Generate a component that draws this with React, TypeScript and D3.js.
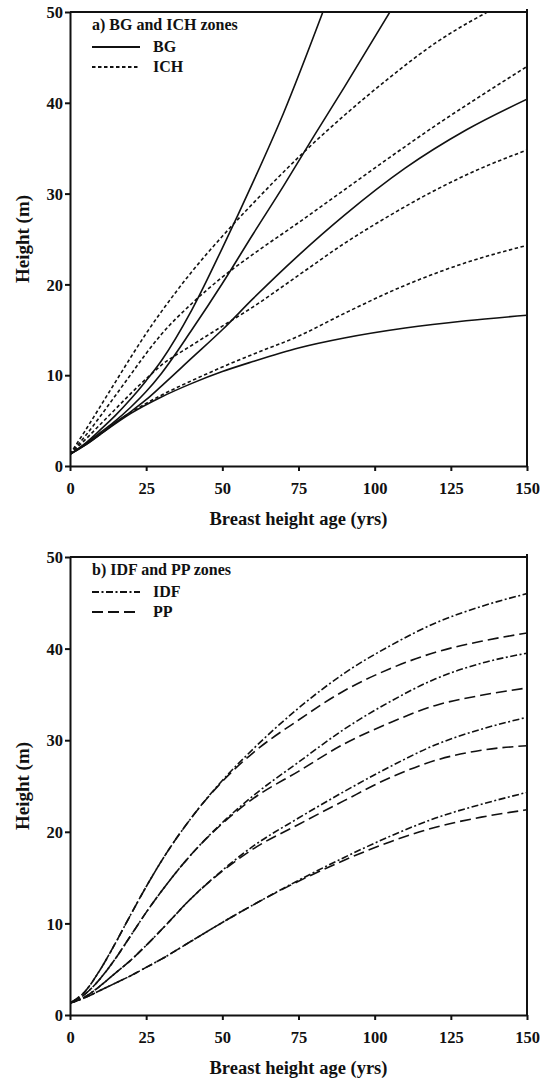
import React, { useEffect, useRef } from 'react';
import * as d3 from 'd3';

// ---- panel a) BG and ICH zones (breast height age in yrs, height in m) ----
const bg1Age = [0, 5, 10, 15, 20, 25, 30, 40, 50, 60, 70, 83];
const bg1Ht = [1.3, 2.5, 4.0, 5.6, 7.4, 9.4, 11.6, 17.2, 24.0, 31.2, 38.8, 50];
const bg2Age = [0, 5, 10, 15, 20, 25, 30, 40, 50, 60, 70, 80, 90, 105];
const bg2Ht = [1.3, 2.4, 3.7, 5.0, 6.5, 8.2, 10.2, 15.0, 20.1, 25.5, 30.8, 36.3, 41.7, 50];
const bg3Age = [0, 5, 10, 15, 20, 25, 30, 40, 50, 60, 75, 90, 110, 130, 150];
const bg3Ht = [1.3, 2.3, 3.5, 4.8, 6.0, 7.3, 8.8, 11.9, 15.0, 18.4, 23.2, 27.6, 32.8, 37.0, 40.4];
const bg4Age = [0, 5, 10, 20, 30, 40, 50, 60, 75, 90, 110, 130, 150];
const bg4Ht = [1.3, 2.3, 3.5, 5.8, 7.6, 9.1, 10.4, 11.5, 13.0, 14.1, 15.2, 16.0, 16.6];

const ich1Age = [0, 5, 10, 15, 20, 25, 30, 40, 50, 60, 75, 90, 105, 120, 137];
const ich1Ht = [1.3, 3.9, 6.6, 9.3, 12.0, 14.6, 17.0, 21.4, 25.3, 28.9, 34.0, 38.6, 42.8, 46.6, 50];
const ich2Age = [0, 5, 10, 15, 20, 25, 30, 40, 50, 60, 75, 90, 105, 120, 135, 150];
const ich2Ht = [1.3, 3.3, 5.5, 7.8, 10.1, 12.4, 14.5, 17.9, 20.8, 23.3, 26.8, 30.4, 34.0, 37.5, 40.8, 44.0];
const ich3Age = [0, 5, 10, 15, 20, 25, 30, 40, 50, 60, 75, 90, 105, 120, 135, 150];
const ich3Ht = [1.3, 2.9, 4.6, 6.3, 8.0, 9.6, 11.1, 13.3, 15.4, 17.5, 21.0, 24.5, 27.6, 30.4, 32.8, 34.8];
const ich4Age = [0, 5, 10, 20, 30, 40, 50, 60, 75, 90, 110, 130, 150];
const ich4Ht = [1.3, 2.4, 3.6, 5.9, 7.8, 9.4, 10.9, 12.3, 14.3, 16.8, 19.9, 22.4, 24.3];

// ---- panel b) IDF and PP zones ----
const ages = [0, 5, 10, 15, 20, 25, 30, 40, 50, 60, 75, 90, 105, 120, 135, 150];
const idf1 = [1.3, 2.6, 5.0, 7.9, 11.0, 14.0, 16.8, 21.6, 25.6, 29.0, 33.5, 37.3, 40.3, 42.8, 44.6, 46.0];
const idf2 = [1.3, 2.3, 4.0, 6.2, 8.7, 11.2, 13.5, 17.6, 21.0, 23.9, 27.6, 31.2, 34.2, 36.7, 38.4, 39.5];
const idf3 = [1.3, 2.0, 3.2, 4.6, 6.0, 7.6, 9.3, 12.8, 15.8, 18.4, 21.5, 24.4, 27.1, 29.5, 31.2, 32.5];
const idf4 = [1.3, 1.9, 2.7, 3.5, 4.3, 5.2, 6.1, 8.1, 10.1, 12.0, 14.7, 17.2, 19.5, 21.5, 23.0, 24.3];
const pp1 = [1.3, 2.6, 5.0, 7.9, 11.0, 14.0, 16.8, 21.6, 25.5, 28.6, 32.2, 35.4, 37.8, 39.6, 40.8, 41.7];
const pp2 = [1.3, 2.3, 4.0, 6.2, 8.7, 11.2, 13.5, 17.6, 20.9, 23.6, 26.6, 29.6, 31.9, 33.8, 34.9, 35.7];
const pp3 = [1.3, 2.0, 3.2, 4.6, 6.0, 7.6, 9.3, 12.8, 15.7, 18.1, 20.8, 23.4, 25.9, 27.8, 28.9, 29.4];
const pp4 = [1.3, 1.9, 2.7, 3.5, 4.3, 5.2, 6.1, 8.1, 10.1, 12.0, 14.6, 16.9, 18.9, 20.5, 21.6, 22.4];

const xTicks = [0, 25, 50, 75, 100, 125, 150];
const yTicks = [0, 10, 20, 30, 40, 50];

const FONT = '"Liberation Serif", "Times New Roman", serif';

// line styles
const SOLID = 'none';
const DOTTED = '3.5,2.5';
const DASHDOT = '7,2.5,2,2.5';
const LONGDASH = '11,5';

const App = () => {
  const svgRef = useRef(null);

  useEffect(() => {
    const svg = d3.select(svgRef.current);
    svg.selectAll('*').remove();

    const zip = (a, h) => a.map((v, i) => [v, h[i]]);

    const panels = [
      {
        id: 'a',
        top: 12,
        bottom: 466,
        title: 'a) BG and ICH zones',
        series: [
          { pts: zip(bg1Age, bg1Ht), dash: SOLID },
          { pts: zip(bg2Age, bg2Ht), dash: SOLID },
          { pts: zip(bg3Age, bg3Ht), dash: SOLID },
          { pts: zip(bg4Age, bg4Ht), dash: SOLID },
          { pts: zip(ich1Age, ich1Ht), dash: DOTTED },
          { pts: zip(ich2Age, ich2Ht), dash: DOTTED },
          { pts: zip(ich3Age, ich3Ht), dash: DOTTED },
          { pts: zip(ich4Age, ich4Ht), dash: DOTTED },
        ],
        legend: [
          { label: 'BG', dash: SOLID },
          { label: 'ICH', dash: DOTTED },
        ],
      },
      {
        id: 'b',
        top: 557,
        bottom: 1015,
        title: 'b) IDF and PP zones',
        series: [
          { pts: zip(ages, idf1), dash: DASHDOT },
          { pts: zip(ages, idf2), dash: DASHDOT },
          { pts: zip(ages, idf3), dash: DASHDOT },
          { pts: zip(ages, idf4), dash: DASHDOT },
          { pts: zip(ages, pp1), dash: LONGDASH },
          { pts: zip(ages, pp2), dash: LONGDASH },
          { pts: zip(ages, pp3), dash: LONGDASH },
          { pts: zip(ages, pp4), dash: LONGDASH },
        ],
        legend: [
          { label: 'IDF', dash: DASHDOT },
          { label: 'PP', dash: LONGDASH },
        ],
      },
    ];

    const left = 70;
    const right = 527;

    panels.forEach(p => {
      const x = d3.scaleLinear().domain([0, 150]).range([left, right]);
      const y = d3.scaleLinear().domain([0, 50]).range([p.bottom, p.top]);
      const g = svg.append('g');

      g.append('clipPath')
        .attr('id', `clip-${p.id}`)
        .append('rect')
        .attr('x', left)
        .attr('y', p.top)
        .attr('width', right - left)
        .attr('height', p.bottom - p.top);

      const line = d3.line()
        .x(d => x(d[0]))
        .y(d => y(d[1]))
        .curve(d3.curveMonotoneX);

      g.append('g')
        .attr('clip-path', `url(#clip-${p.id})`)
        .selectAll('path')
        .data(p.series)
        .join('path')
        .attr('d', d => line(d.pts))
        .attr('fill', 'none')
        .attr('stroke', '#111')
        .attr('stroke-width', 1.6)
        .attr('stroke-dasharray', d => d.dash);

      // frame (top and right)
      g.append('line')
        .attr('x1', left).attr('x2', right)
        .attr('y1', p.top).attr('y2', p.top)
        .attr('stroke', '#111').attr('stroke-width', 2);
      g.append('line')
        .attr('x1', right).attr('x2', right)
        .attr('y1', p.top - 3).attr('y2', p.bottom)
        .attr('stroke', '#111').attr('stroke-width', 2);

      // x axis
      const xa = g.append('g')
        .attr('transform', `translate(0,${p.bottom})`)
        .call(d3.axisBottom(x).tickValues(xTicks).tickSize(5).tickSizeOuter(0));
      xa.select('.domain').attr('stroke', '#111').attr('stroke-width', 2);
      xa.selectAll('.tick line').attr('stroke', '#111').attr('stroke-width', 2);
      xa.selectAll('.tick text')
        .attr('y', 28)
        .attr('dy', null)
        .attr('fill', '#111')
        .style('font-family', FONT)
        .style('font-weight', 'bold')
        .style('font-size', '16.5px');

      // y axis
      const ya = g.append('g')
        .attr('transform', `translate(${left},0)`)
        .call(d3.axisLeft(y).tickValues(yTicks).tickSize(5).tickSizeOuter(0).tickPadding(2));
      ya.select('.domain').attr('stroke', '#111').attr('stroke-width', 2);
      ya.selectAll('.tick line').attr('stroke', '#111').attr('stroke-width', 2);
      ya.selectAll('.tick text')
        .attr('dy', '0.34em')
        .attr('fill', '#111')
        .style('font-family', FONT)
        .style('font-weight', 'bold')
        .style('font-size', '16.5px');

      // axis titles
      g.append('text')
        .attr('x', (left + right) / 2)
        .attr('y', p.bottom + 59)
        .attr('text-anchor', 'middle')
        .attr('fill', '#111')
        .style('font-family', FONT)
        .style('font-weight', 'bold')
        .style('font-size', '18.5px')
        .text('Breast height age (yrs)');

      g.append('text')
        .attr('transform', `translate(29,${(p.top + p.bottom) / 2}) rotate(-90)`)
        .attr('text-anchor', 'middle')
        .attr('fill', '#111')
        .style('font-family', FONT)
        .style('font-weight', 'bold')
        .style('font-size', '19px')
        .text('Height (m)');

      // legend
      const lx = left + 22;
      g.append('text')
        .attr('x', lx)
        .attr('y', p.top + 18)
        .attr('fill', '#111')
        .style('font-family', FONT)
        .style('font-weight', 'bold')
        .style('font-size', '16px')
        .text(p.title);

      p.legend.forEach((l, i) => {
        const ly = p.top + 35 + i * 20;
        g.append('line')
          .attr('x1', lx).attr('x2', lx + 48)
          .attr('y1', ly).attr('y2', ly)
          .attr('stroke', '#111')
          .attr('stroke-width', 1.8)
          .attr('stroke-dasharray', l.dash);
        g.append('text')
          .attr('x', lx + 61)
          .attr('y', ly + 5)
          .attr('fill', '#111')
          .style('font-family', FONT)
          .style('font-weight', 'bold')
          .style('font-size', '16px')
          .text(l.label);
      });
    });
  }, []);

  return (
    <>
      <style>{'body{margin:0;background:#fff}'}</style>
      <svg ref={svgRef} width={544} height={1079} style={{ display: 'block' }} />
    </>
  );
};

export default App;
